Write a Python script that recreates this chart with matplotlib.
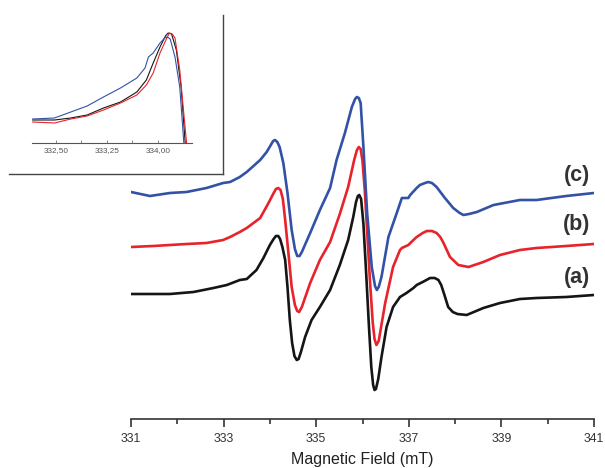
import matplotlib
matplotlib.use('Agg')
import matplotlib.pyplot as plt
from matplotlib.ticker import FixedLocator

plt.rcParams['font.family'] = ['Liberation Sans', 'DejaVu Sans']

# EPR spectra, field in mT, intensity in arbitrary units (stacked)
field_a = [331.0, 331.84, 332.35, 332.78, 333.07, 333.35, 333.5, 333.71, 333.86, 334.0,
           334.08, 334.13, 334.18, 334.22, 334.27, 334.33, 334.38, 334.43, 334.48, 334.53,
           334.58, 334.62, 334.67, 334.76, 334.9, 335.08, 335.3, 335.51, 335.69, 335.8,
           335.86, 335.9, 335.93, 335.97, 336.02, 336.08, 336.14, 336.19, 336.23, 336.26,
           336.29, 336.34, 336.41, 336.52, 336.66, 336.81, 336.95, 337.1, 337.17, 337.3,
           337.46, 337.56, 337.64, 337.7, 337.77, 337.85, 337.95, 338.05, 338.25, 338.61,
           338.97, 339.4, 339.76, 340.4, 341.0]
sig_a = [125, 125, 127, 131, 134, 139, 140, 149, 161, 174,
         180, 183, 183, 180, 172, 159, 132, 99, 76, 63,
         59, 60, 67, 82, 99, 112, 129, 154, 179, 202,
         217, 223, 224, 220, 195, 145, 92, 52, 34, 29,
         30, 40, 62, 92, 112, 122, 126, 131, 134, 137,
         141, 141, 139, 134, 124, 112, 107, 105, 104, 111,
         116, 120, 121, 122, 124]

field_b = [331.0, 331.48, 332.2, 332.63, 332.99, 333.14, 333.35, 333.5, 333.79, 333.97,
           334.07, 334.13, 334.18, 334.23, 334.28, 334.33, 334.4, 334.47, 334.54, 334.59,
           334.63, 334.69, 334.87, 335.08, 335.3, 335.51, 335.69, 335.82, 335.88, 335.92,
           335.96, 336.0, 336.05, 336.1, 336.16, 336.22, 336.26, 336.3, 336.35, 336.49,
           336.66, 336.81, 336.85, 336.99, 337.1, 337.17, 337.3, 337.39, 337.5, 337.6,
           337.68, 337.75, 337.89, 338.07, 338.29, 338.61, 338.97, 339.4, 339.76, 340.4,
           341.0]
sig_b = [172, 173, 175, 176, 179, 182, 187, 191, 201, 216,
         225, 230, 231, 229, 220, 199, 166, 132, 114, 108,
         107, 112, 136, 159, 177, 205, 232, 259, 269, 272,
         270, 258, 228, 188, 139, 97, 80, 74, 78, 116,
         152, 169, 171, 174, 179, 182, 186, 188, 188, 186,
         182, 176, 162, 154, 152, 157, 164, 169, 171, 173,
         175]

field_c = [331.0, 331.41, 331.84, 332.2, 332.63, 332.99, 333.14, 333.35, 333.5, 333.79,
           333.93, 334.02, 334.07, 334.11, 334.16, 334.21, 334.29, 334.38, 334.47, 334.54,
           334.59, 334.64, 334.69, 334.87, 335.08, 335.3, 335.44, 335.62, 335.77, 335.84,
           335.88, 335.92, 335.96, 336.02, 336.1, 336.2, 336.27, 336.31, 336.35, 336.41,
           336.56, 336.74, 336.85, 336.99, 337.03, 337.17, 337.24, 337.35, 337.42, 337.5,
           337.6, 337.78, 337.96, 338.1, 338.18, 338.3, 338.47, 338.83, 339.4, 339.76,
           340.4, 341.0]
sig_c = [227, 223, 226, 227, 231, 236, 237, 242, 247, 259,
         267, 274, 278, 279, 277, 272, 256, 226, 189, 170,
         163, 163, 167, 186, 209, 231, 259, 286, 312, 320,
         322, 321, 316, 272, 206, 152, 133, 129, 132, 142,
         182, 206, 221, 221, 224, 231, 234, 236, 237, 236,
         232, 221, 211, 206, 204, 205, 207, 214, 219, 219,
         223, 226]

# zoom on the low-field line, normalised
zf_a = [332.16, 332.48, 332.72, 332.96, 333.2, 333.45, 333.69, 333.83, 333.93, 334.03,
        334.11, 334.15, 334.2, 334.27, 334.34, 334.4, 334.42]
zs_a = [23, 23, 25, 28, 35, 41, 51, 63, 80, 96,
        107, 110, 109, 93, 56, 0, -20]
zf_b = [332.16, 332.48, 332.72, 332.96, 333.2, 333.45, 333.69, 333.83, 333.93, 334.03,
        334.13, 334.17, 334.21, 334.25, 334.32, 334.42, 334.44]
zs_b = [21, 20, 24, 27, 33, 40, 48, 58, 70, 90,
        105, 110, 109, 105, 73, 0, -20]
zf_c = [332.16, 332.48, 332.72, 332.96, 333.2, 333.45, 333.69, 333.81, 333.86, 333.93,
        334.03, 334.1, 334.14, 334.18, 334.25, 334.32, 334.38, 334.4]
zs_c = [24, 25, 31, 37, 46, 55, 65, 75, 86, 90,
        100, 105, 106, 104, 86, 56, 0, -20]

labels = ['(a)', '(b)', '(c)']
label_y = [142, 195, 244]
col_a, col_b, col_c = '#151515', '#e8232b', '#3352a6'

fig = plt.figure(figsize=(6.05, 4.68), dpi=100)
W, H = 605, 468

ax = fig.add_axes([131 / W, (H - 419) / H, (594 - 131) / W, (419 - 5) / H])
ax.plot(field_a, sig_a, color=col_a, lw=1.9)
ax.plot(field_b, sig_b, color=col_b, lw=1.9)
ax.plot(field_c, sig_c, color=col_c, lw=1.9)
ax.set_xlim(331, 341)
ax.set_ylim(0, 414)
for s in ['left', 'right', 'top']:
    ax.spines[s].set_visible(False)
ax.spines['bottom'].set_color('#333333')
ax.spines['bottom'].set_linewidth(1.2)
ax.set_yticks([])
ax.xaxis.set_major_locator(FixedLocator(list(range(331, 342, 2))))
ax.xaxis.set_minor_locator(FixedLocator(list(range(332, 341, 2))))
ax.tick_params(axis='x', which='major', length=6, width=1.2, color='#333333',
               labelsize=8.8, labelcolor='#333333', pad=4)
ax.tick_params(axis='x', which='minor', length=3.5, width=1.2, color='#333333')
ax.set_xlabel('Magnetic Field (mT)', fontsize=11.5, color='#222222', labelpad=5)
for lab, yy in zip(labels, label_y):
    ax.text(340.63, yy, lab, ha='center', va='center', fontsize=15.5,
            fontweight='bold', color='#333333')

# frame around the inset
box = fig.add_axes([9 / W, (H - 174) / H, (223 - 9) / W, (174 - 15) / H])
box.set_xticks([])
box.set_yticks([])
box.patch.set_alpha(0)
for s in ['left', 'top']:
    box.spines[s].set_visible(False)
for s in ['right', 'bottom']:
    box.spines[s].set_color('#444444')
    box.spines[s].set_linewidth(1.0)

ins = fig.add_axes([32 / W, (H - 143) / H, (192 - 32) / W, (143 - 15) / H])
ins.patch.set_alpha(0)
ins.plot(zf_a, zs_a, color=col_a, lw=0.8)
ins.plot(zf_b, zs_b, color=col_b, lw=0.8)
ins.plot(zf_c, zs_c, color=col_c, lw=0.8)
ins.set_xlim(332.15, 334.5)
ins.set_ylim(0, 128)
for s in ['left', 'right', 'top']:
    ins.spines[s].set_visible(False)
ins.spines['bottom'].set_color('#555555')
ins.spines['bottom'].set_linewidth(0.8)
ins.set_yticks([])
ins.xaxis.set_major_locator(FixedLocator([332.5, 333.25, 334.0]))
ins.xaxis.set_minor_locator(FixedLocator([332.875, 333.625]))
ins.set_xticklabels(['332,50', '333,25', '334,00'])
ins.tick_params(axis='x', which='both', direction='in', length=2, width=0.6,
                color='#777777', labelsize=5.9, labelcolor='#555555', pad=3)

fig.savefig('out.png', dpi=100)
